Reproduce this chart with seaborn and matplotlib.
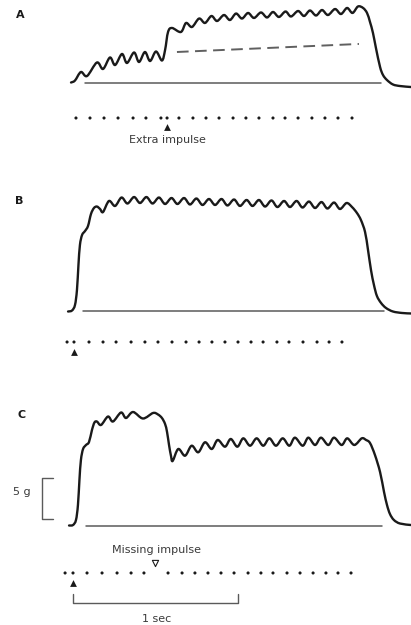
import numpy as np
import pandas as pd
import seaborn as sns
import matplotlib.pyplot as plt
from matplotlib.path import Path
from matplotlib.patches import PathPatch

# force traces (time in ms from first stimulus, force in g above rest)
A_t = [-12, 12, 48, 85, 145, 182, 224, 255, 297, 327, 370, 400, 436, 467, 503, 539, 558, 576, 600, 654,
       685, 721, 764, 800, 839, 873, 915, 951, 988, 1024, 1061, 1097, 1139, 1176, 1212, 1248, 1288, 1321,
       1364, 1400, 1436, 1473, 1509, 1545, 1588, 1624, 1661, 1694, 1727, 1758, 1782, 1800, 1818, 1836,
       1861, 1879, 1903, 1939, 1982, 2048]
A_f = [0, 0.24, 1.28, 0.79, 2.44, 1.65, 3.05, 2.13, 3.48, 2.38, 3.66, 2.50, 3.72, 2.62, 3.78, 2.68, 3.96,
       6.16, 6.65, 6.16, 7.26, 6.77, 7.80, 7.26, 8.11, 7.50, 8.23, 7.62, 8.41, 7.80, 8.48, 7.87, 8.54, 7.93,
       8.60, 7.99, 8.66, 8.05, 8.72, 8.11, 8.78, 8.17, 8.84, 8.23, 8.96, 8.35, 9.09, 8.48, 9.27, 9.09, 8.48,
       7.38, 6.04, 4.21, 1.89, 0.91, 0.30, -0.24, -0.43, -0.55]

B_t = [-30, -6, 12, 24, 33, 42, 55, 73, 91, 109, 127, 145, 164, 182, 218, 255, 294, 330, 370, 406, 445,
       482, 521, 558, 597, 633, 673, 709, 748, 785, 824, 861, 900, 936, 976, 1012, 1052, 1088, 1127, 1164,
       1203, 1239, 1279, 1315, 1355, 1391, 1430, 1467, 1506, 1542, 1582, 1618, 1658, 1691, 1721, 1745,
       1770, 1788, 1806, 1824, 1842, 1867, 1897, 1939, 1994, 2048]
B_f = [0, 0.12, 0.79, 2.62, 5.67, 8.11, 9.33, 9.82, 10.43, 11.89, 12.62, 12.80, 12.50, 12.13, 13.48,
       12.87, 13.90, 13.17, 13.96, 13.23, 13.96, 13.17, 13.90, 13.11, 13.84, 13.11, 13.84, 13.05, 13.78,
       12.99, 13.72, 12.99, 13.72, 12.93, 13.66, 12.87, 13.60, 12.87, 13.60, 12.80, 13.54, 12.74, 13.48,
       12.74, 13.48, 12.68, 13.41, 12.62, 13.35, 12.56, 13.29, 12.50, 13.23, 12.74, 12.01, 11.16, 9.70,
       7.50, 5.06, 3.23, 1.89, 1.04, 0.43, 0, -0.18, -0.24]

C_t = [-24, 0, 18, 30, 39, 48, 61, 79, 97, 115, 130, 145, 170, 212, 242, 291, 321, 364, 424, 485, 515,
       539, 558, 570, 582, 594, 604, 638, 679, 719, 759, 800, 841, 877, 921, 956, 996, 1032, 1073, 1113,
       1153, 1190, 1230, 1271, 1311, 1345, 1392, 1426, 1467, 1503, 1547, 1582, 1628, 1662, 1705, 1750,
       1776, 1800, 1830, 1861, 1885, 1903, 1921, 1945, 1982, 2048]
C_f = [0, 0.06, 0.67, 2.50, 5.55, 7.99, 9.33, 9.82, 10.18, 11.65, 12.56, 12.68, 12.26, 13.29, 12.68,
       13.78, 13.11, 13.84, 13.05, 13.72, 13.54, 13.11, 12.38, 11.40, 9.82, 8.48, 7.87, 9.33, 8.51, 9.73,
       8.93, 10.15, 9.33, 10.43, 9.61, 10.55, 9.61, 10.63, 9.73, 10.63, 9.73, 10.63, 9.73, 10.63, 9.73,
       10.71, 9.73, 10.71, 9.82, 10.71, 9.82, 10.71, 9.82, 10.63, 9.82, 10.63, 10.43, 10.06, 8.60, 6.52,
       4.09, 2.50, 1.40, 0.67, 0.24, 0.06]

# stimulus impulses (ms)
A_imp = [18, 103, 188, 273, 364, 442, 533, 570, 642, 727, 806, 885, 970, 1048, 1127, 1212, 1285, 1364,
         1448, 1527, 1606, 1691]
B_imp = [-36, 6, 97, 182, 261, 352, 436, 515, 600, 685, 764, 842, 921, 1000, 1079, 1152, 1236, 1309,
         1394, 1479, 1552, 1630]
C_imp = [-48, 0, 85, 176, 267, 352, 430, 576, 661, 739, 818, 897, 976, 1061, 1139, 1212, 1297, 1376,
         1455, 1533, 1606, 1685]
A_extra = 570
B_marker = 6
C_marker = 0
C_missing = 497

# zero-force lines and extrapolated level in A
A_zero = [73, 1867]
B_zero = [61, 1885]
C_zero = [79, 1873]
A_dash_t = [630, 1733]
A_dash_f = [3.72, 4.70]

# calibration
scale_g = 5
scale_ms = 1000

MS_PX = 1000 / 165   # ms per pixel
G_PX = 5 / 41        # g per pixel
INK = '#1a1a1a'
GREY = '#5a5a5a'
TXT = '#3a3a3a'

sns.set_style('white')
plt.rcParams['font.family'] = ['DejaVu Sans']

fig = plt.figure(figsize=(4.11, 6.25), dpi=100)


def panel(base_px):
    ax = fig.add_axes([0, 0, 1, 1])
    ax.patch.set_alpha(0)
    ax.set_xlim(-73 * MS_PX, (411 - 73) * MS_PX)
    ax.set_ylim((base_px - 625) * G_PX, base_px * G_PX)
    ax.axis('off')
    return ax


def trace(ax, t, f, zero):
    # smooth curve through the read points (bezier segments drawn by matplotlib)
    p = np.column_stack([t, f]).astype(float)
    n = len(p)
    verts = [p[0]]
    codes = [Path.MOVETO]
    for i in range(n - 1):
        p0, p1, p2, p3 = p[max(i - 1, 0)], p[i], p[i + 1], p[min(i + 2, n - 1)]
        verts += [p1 + (p2 - p0) / 6, p2 - (p3 - p1) / 6, p2]
        codes += [Path.CURVE4] * 3
    ax.add_patch(PathPatch(Path(verts, codes), fill=False, edgecolor=INK, lw=1.7,
                           joinstyle='round', capstyle='round'))
    sns.lineplot(x=zero, y=[0, 0], color=GREY, lw=1.1, ax=ax)


def impulses(ax, imp, row):
    sns.scatterplot(x=imp, y=np.full(len(imp), row), s=5, color=INK, edgecolor='none', ax=ax)


# A
axA = panel(82.5)
trace(axA, A_t, A_f, A_zero)
sns.lineplot(x=A_dash_t, y=A_dash_f, color='#606060', lw=1.4, ax=axA)
axA.lines[-1].set_linestyle((0, (6, 3.3)))
impulses(axA, A_imp, -4.33)
axA.scatter([A_extra], [-5.45], marker='^', s=24, color=INK, linewidths=0)
axA.text(A_extra, -7.0, 'Extra impulse', ha='center', va='center', fontsize=8, color=TXT)
axA.text(-321, 8.23, 'A', ha='center', va='center', fontsize=8, fontweight='bold', color=INK)

# B
axB = panel(311.5)
trace(axB, B_t, B_f, B_zero)
impulses(axB, B_imp, -3.72)
axB.scatter([B_marker], [-4.95], marker='^', s=24, color=INK, linewidths=0)
axB.text(-327, 13.48, 'B', ha='center', va='center', fontsize=8, fontweight='bold', color=INK)

# C
axC = panel(525.5)
trace(axC, C_t, C_f, C_zero)
impulses(axC, C_imp, -5.79)
axC.scatter([C_missing], [-4.55], marker='v', s=20, facecolor='white', edgecolor=INK, linewidths=0.8)
axC.text(C_missing + 12, -2.99, 'Missing impulse', ha='center', va='center', fontsize=8, color=TXT)
axC.scatter([C_marker], [-7.0], marker='^', s=24, color=INK, linewidths=0)
axC.text(-309, 13.48, 'C', ha='center', va='center', fontsize=8, fontweight='bold', color=INK)

# 1 sec bar
axC.plot([C_marker, C_marker, C_marker + scale_ms, C_marker + scale_ms],
         [-8.35, -9.45, -9.45, -8.35], color=GREY, lw=1.0)
axC.text(C_marker + scale_ms / 2 + 9, -11.4, '1 sec', ha='center', va='center', fontsize=8, color=TXT)

# 5 g bar
axC.plot([-121, -188, -188, -121], [0.79, 0.79, 0.79 + scale_g, 0.79 + scale_g], color=GREY, lw=1.0)
axC.text(-309, 4.09, '5 g', ha='center', va='center', fontsize=8, color=TXT)

fig.savefig('out.png', dpi=100)
